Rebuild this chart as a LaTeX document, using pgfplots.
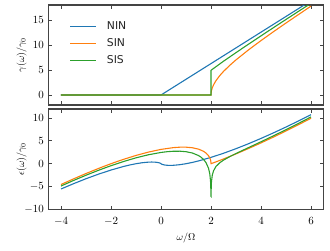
\documentclass[border=0pt]{standalone}
\usepackage{fontspec}
\newfontfamily\dejavu{DejaVu Sans}
\usepackage{pgfplots}
\pgfplotsset{compat=1.18}
\definecolor{c0}{RGB}{31,119,180}
\definecolor{c1}{RGB}{255,127,14}
\definecolor{c2}{RGB}{44,160,44}
\definecolor{framec}{RGB}{68,68,68}
\pgfplotsset{
  base/.style={
    scale only axis, width=275pt,
    xmin=-4.5, xmax=6.5, xtick={-4,-2,0,2,4,6},
    axis line style={draw=framec, line width=1.3pt},
    tick style={draw=framec, line width=0.9pt},
    major tick length=3.6pt, tick align=inside,
    xtick pos=both, ytick pos=both,
    tick label style={font=\fontsize{10.8}{12}\selectfont},
    label style={font=\fontsize{10.8}{12}\selectfont},
    yticklabel style={xshift=-1.2pt},
    xticklabel style={yshift=-4.2pt},
    every axis y label/.style={at={(axis description cs:-0.0975,0.5)}, rotate=90, anchor=center},
    every axis x label/.style={at={(axis description cs:0.5,-0.283)}, anchor=center},
  }
}
\begin{document}
\begin{tikzpicture}
\begin{axis}[base, at={(48.5pt,145pt)}, anchor=south west, height=100pt,
  ymin=-2, ymax=18, ytick={0,5,10,15}, xticklabel=\empty,
  ylabel={$\gamma(\omega)/\gamma_0$},
  legend style={draw=none, fill=none, at={(axis description cs:0,1)}, anchor=north west,
    xshift=21pt, yshift=-13pt, inner sep=0pt, row sep=0pt,
    font=\dejavu\fontsize{10.8}{12}\selectfont, text=black!85,
    nodes={inner sep=0pt, minimum height=17pt}},
  legend cell align=left,
  legend image code/.code={\draw[#1, line width=1.4pt] (0pt,0pt) -- (26pt,0pt); \path (36pt,0pt);},
]
\addplot[c0, line width=1.1pt] coordinates {(-4,0) (0,0) (6,18.8496)};
\addlegendentry{NIN}
\addplot[c1, line width=1.1pt] coordinates {(-4,0) (2,0) (2.005,0.4446) (2.01,0.6291) (2.02,0.8908) (2.05,1.4137) (2.1,2.0116) (2.2,2.8793) (2.35,3.8764) (2.5,4.7124) (2.75,5.9297) (3,7.0248) (3.5,9.0235) (4,10.8828) (4.5,12.6642) (5,14.3966) (5.5,16.0959) (6,17.7715)};
\addlegendentry{SIN}
\addplot[c2, line width=1.1pt] coordinates {(-4,0) (2,0) (2,4.9348) (2.05,5.1195) (2.1,5.3027) (2.2,5.6665) (2.5,6.7516) (3,8.4725) (3.5,10.1657) (4,11.8312) (4.5,13.4774) (5,15.1098) (5.5,16.7316) (6,18.3455)};
\addlegendentry{SIS}
\end{axis}
\begin{axis}[base, at={(48.5pt,40.7pt)}, anchor=south west, height=100.3pt,
  ymin=-10, ymax=12, ytick={-10,-5,0,5,10},
  ylabel={$\epsilon(\omega)/\gamma_0$}, xlabel={$\omega/\Omega$},
]
\addplot[c0, line width=1.1pt] coordinates {(-4,-5.5452) (-3.5,-4.3847) (-3,-3.2958) (-2.5,-2.2907) (-2,-1.3863) (-1.5,-0.6082) (-1.25,-0.2789) (-1,0) (-0.75,0.2158) (-0.5,0.3466) (-0.37,0.3679) (-0.25,0.3466) (-0.15,0.2846) (-0.08,0.2021) (-0.03,0.1052) (0,0) (0.03,-0.1052) (0.08,-0.2021) (0.15,-0.2846) (0.25,-0.3466) (0.37,-0.3679) (0.5,-0.3466) (0.75,-0.2158) (1,0) (1.25,0.2789) (1.5,0.6082) (2,1.3863) (2.5,2.2907) (3,3.2958) (3.5,4.3847) (4,5.5452) (4.5,6.7683) (5,8.0472) (5.5,9.3761) (6,10.7506)};
\addplot[c1, line width=1.1pt] coordinates {(-4,-4.5621) (-3.5,-3.3285) (-3,-2.1520) (-2.5,-1.0397) (-2.25,-0.5102) (-2,0) (-1.75,0.4893) (-1.5,0.9561) (-1,1.8138) (-0.5,2.5525) (0,3.1416) (0.5,3.5312) (0.75,3.6250) (1,3.6276) (1.25,3.5065) (1.5,3.1999) (1.7,2.7254) (1.8,2.3456) (1.9,1.7636) (1.95,1.2966) (1.98,0.8464) (1.99,0.6075) (1.9976,0.3029) (2.0024,0.0048) (2.02,0.0401) (2.05,0.1004) (2.1,0.2017) (2.2,0.4065) (2.35,0.7197) (2.5,1.0397) (2.75,1.5874) (3,2.1520) (3.5,3.3285) (4,4.5621) (4.5,5.8475) (5,7.1800) (5.5,8.5558) (6,9.9716)};
\addplot[c2, line width=1.1pt] coordinates {(-4,-4.8913) (-3.5,-3.6785) (-3,-2.5261) (-2.5,-1.4418) (-2,-0.4351) (-1.5,0.4811) (-1,1.2894) (-0.5,1.9649) (0,2.4692) (0.25,2.6384) (0.5,2.7366) (0.75,2.7453) (1,2.6350) (1.25,2.3540) (1.5,1.7936) (1.6,1.4374) (1.7,0.9512) (1.8,0.2411) (1.9,-0.9815) (1.95,-2.1778) (1.98,-3.7093) (1.99,-4.8388) (1.9976,-7.1201) (2.0024,-7.1560) (2.01,-4.9537) (2.02,-3.9053) (2.05,-2.5566) (2.1,-1.5709) (2.2,-0.6023) (2.35,0.2096) (2.5,0.7831) (2.75,1.5550) (3,2.2383) (3.5,3.5297) (4,4.8126) (4.5,6.1207) (5,7.4635) (5.5,8.8429) (6,10.2586)};
\end{axis}
\pgfresetboundingbox
\path[use as bounding box] (0pt,0pt) rectangle (330pt,250pt);
\end{tikzpicture}
\end{document}
